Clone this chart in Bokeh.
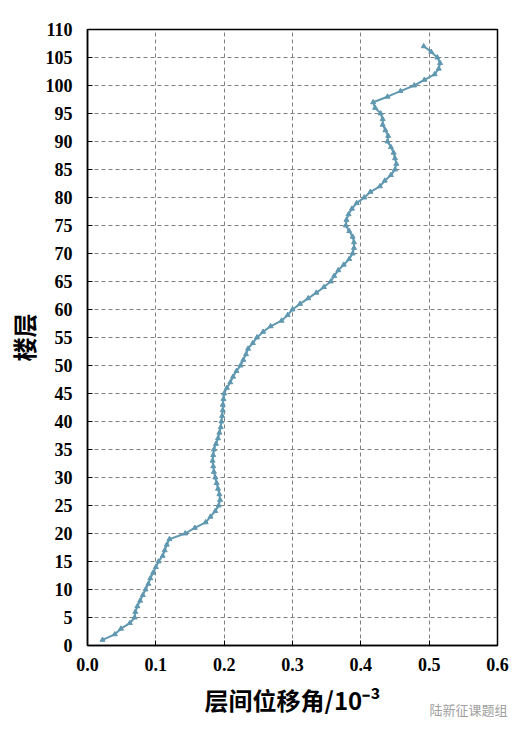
from bokeh.plotting import figure
from bokeh.models import Range1d, FixedTicker, Title
from bokeh.embed import file_html
from bokeh.resources import INLINE

floors = list(range(1, 108))
drift = [
    0.022, 0.040, 0.049, 0.062, 0.069, 0.070, 0.073, 0.077, 0.081, 0.085,
    0.089, 0.092, 0.096, 0.100, 0.104, 0.110, 0.113, 0.116, 0.120, 0.143,
    0.157, 0.173, 0.180, 0.187, 0.192, 0.194, 0.193, 0.191, 0.189, 0.187,
    0.185, 0.184, 0.183, 0.184, 0.185, 0.188, 0.191, 0.193, 0.195, 0.196,
    0.197, 0.198, 0.198, 0.199, 0.200, 0.204, 0.209, 0.213, 0.218, 0.224,
    0.228, 0.232, 0.235, 0.242, 0.248, 0.257, 0.268, 0.284, 0.293, 0.300,
    0.311, 0.323, 0.335, 0.346, 0.356, 0.361, 0.367, 0.375, 0.383, 0.388,
    0.390, 0.390, 0.388, 0.383, 0.378, 0.379, 0.382, 0.387, 0.394, 0.405,
    0.414, 0.428, 0.435, 0.444, 0.450, 0.452, 0.450, 0.448, 0.444, 0.439,
    0.440, 0.436, 0.432, 0.432, 0.429, 0.421, 0.418, 0.439, 0.458, 0.478,
    0.493, 0.508, 0.514, 0.516, 0.512, 0.503, 0.492,
]
x_ticks = [0.0, 0.1, 0.2, 0.3, 0.4, 0.5, 0.6]
x_tick_labels = {0.0: "0.0", 0.1: "0.1", 0.2: "0.2", 0.3: "0.3", 0.4: "0.4", 0.5: "0.5", 0.6: "0.6"}
y_ticks = list(range(0, 111, 5))

p = figure(width=520, height=726, output_backend="svg", toolbar_location=None,
           x_range=Range1d(0, 0.6), y_range=Range1d(0, 110),
           min_border_left=87, min_border_right=23, min_border_top=29, min_border_bottom=81)

col = "#5f98b0"
p.line(drift, floors, line_color=col, line_width=2)
p.scatter(drift, floors, marker="triangle", size=5, color=col)

p.xaxis.ticker = FixedTicker(ticks=x_ticks)
p.xaxis.major_label_overrides = x_tick_labels
p.yaxis.ticker = FixedTicker(ticks=y_ticks)

for ax in (p.xaxis[0], p.yaxis[0]):
    ax.major_tick_in = 5
    ax.major_tick_out = 0
    ax.minor_tick_line_color = None
    ax.axis_line_width = 1.5
    ax.axis_line_color = "black"
    ax.major_tick_line_color = "black"
    ax.major_label_text_font = "Liberation Serif"
    ax.major_label_text_font_style = "bold"
    ax.major_label_text_font_size = "18px"
    ax.major_label_text_color = "black"
    ax.axis_label_text_font = "Noto Sans CJK SC"
    ax.axis_label_text_font_style = "bold"
    ax.axis_label_text_font_size = "24px"
    ax.axis_label_text_color = "black"

p.xaxis.axis_label = "层间位移角/10⁻³"
p.yaxis.axis_label = "楼层"
p.xaxis.major_label_standoff = 12
p.xaxis.axis_label_standoff = 8
p.yaxis.major_label_standoff = 15
p.yaxis.axis_label_standoff = 2

p.grid.grid_line_color = "#808080"
p.grid.grid_line_dash = "4 3"
p.grid.grid_line_width = 1
p.outline_line_color = "black"
p.outline_line_width = 1.5
p.background_fill_color = "white"

wm = Title(text="陆新征课题组", align="right", vertical_align="top",
           text_font="Noto Sans CJK SC", text_font_size="13px", text_font_style="normal",
           text_color="#a0a0a0", standoff=-40, offset=-10)
p.add_layout(wm, "below")

open("out.html", "w").write(file_html(p, INLINE))
